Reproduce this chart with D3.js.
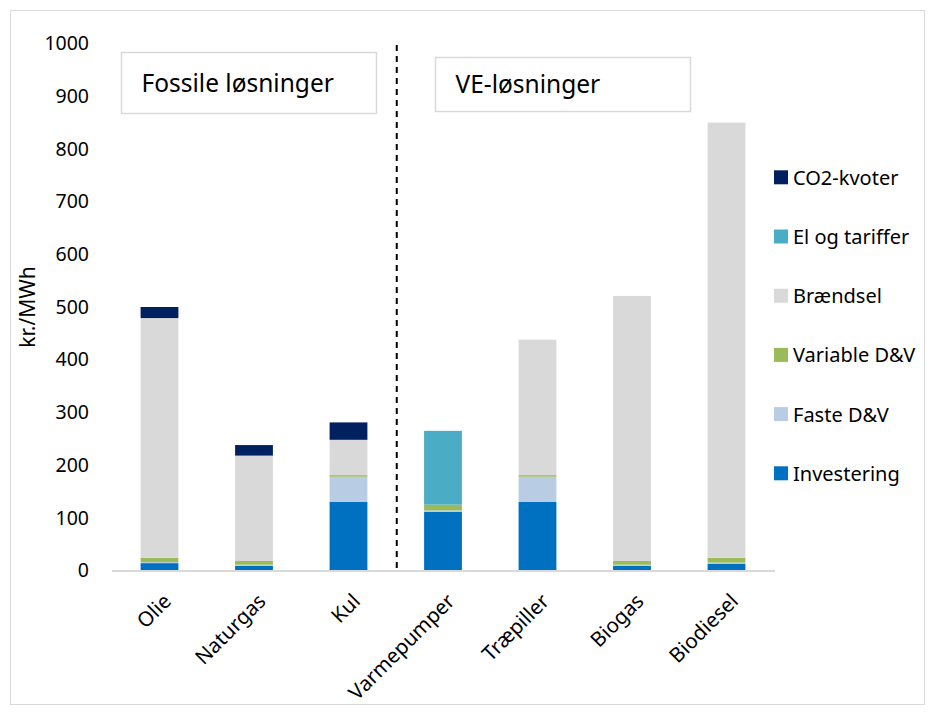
<!DOCTYPE html>
<html>
<head>
<meta charset="utf-8">
<script src="https://cdn.jsdelivr.net/npm/d3@7"></script>
<style>
  html, body { margin: 0; padding: 0; background: #fff; }
  svg { display: block; font-family: "Noto Sans", "Open Sans", sans-serif; }
</style>
</head>
<body>
<svg id="chart" width="935" height="715"></svg>
<script>
// Heating solutions, cost per MWh split into components
const categories = ["Olie", "Naturgas", "Kul", "Varmepumper", "Træpiller", "Biogas", "Biodiesel"];
const investering = [14, 9, 130, 111, 130, 9, 13];
const fasteDV     = [2, 2, 48, 3, 48, 2, 2];
const variableDV  = [8, 7, 3, 11, 3, 7, 9];
const braendsel   = [455, 200, 67, 0, 257, 503, 826];
const elTariffer  = [0, 0, 0, 140, 0, 0, 0];
const co2Kvoter   = [21, 20, 33, 0, 0, 0, 0];
const yTicks = [0, 100, 200, 300, 400, 500, 600, 700, 800, 900, 1000];

const seriesNames  = ["Investering", "Faste D&V", "Variable D&V", "Brændsel", "El og tariffer", "CO2-kvoter"];
const seriesValues = [investering, fasteDV, variableDV, braendsel, elTariffer, co2Kvoter];
const seriesColors = ["#0070c0", "#b8cce4", "#9bbb59", "#d9d9d9", "#4bacc6", "#002060"];

const svg = d3.select("#chart");

// outer frame
svg.append("rect")
  .attr("x", 10.5).attr("y", 10.5)
  .attr("width", 914).attr("height", 694)
  .attr("fill", "none").attr("stroke", "#d9d9d9").attr("stroke-width", 1);

const plot = { left: 112.25, right: 773.75, top: 43.5, bottom: 570.5 };

const x = d3.scaleBand()
  .domain(categories)
  .range([plot.left, plot.right])
  .paddingInner(0.6)
  .paddingOuter(0.3);

const y = d3.scaleLinear()
  .domain([0, 1000])
  .range([plot.bottom, plot.top]);

// build table for stacking
const table = categories.map((c, i) => {
  const row = { category: c };
  seriesNames.forEach((s, j) => { row[s] = seriesValues[j][i]; });
  return row;
});
const stacked = d3.stack().keys(seriesNames)(table);

const layers = svg.append("g").selectAll("g")
  .data(stacked)
  .join("g")
  .attr("fill", (d, i) => seriesColors[i]);

layers.selectAll("rect")
  .data(d => d)
  .join("rect")
  .attr("x", d => x(d.data.category))
  .attr("width", x.bandwidth())
  .attr("y", d => y(d[1]))
  .attr("height", d => Math.max(0, y(d[0]) - y(d[1])));

// y axis (labels only)
const yAxis = d3.axisLeft(y).tickValues(yTicks).tickFormat(d3.format("d")).tickSize(0).tickPadding(0);
const yg = svg.append("g")
  .attr("transform", "translate(89,0)")
  .call(yAxis);
yg.select(".domain").remove();
yg.selectAll("text")
  .attr("font-family", "Noto Sans, sans-serif")
  .attr("font-size", 19.5)
  .attr("fill", "#000");

// x axis baseline
svg.append("line")
  .attr("x1", 112).attr("x2", 775)
  .attr("y1", y(0) + 0.5).attr("y2", y(0) + 0.5)
  .attr("stroke", "#d9d9d9").attr("stroke-width", 2);

// category labels, rotated
const xAxis = d3.axisBottom(x).tickSize(0).tickPadding(0);
const xg = svg.append("g")
  .attr("transform", `translate(0,${y(0)})`)
  .call(xAxis);
xg.select(".domain").remove();
xg.selectAll("text")
  .attr("font-family", "Noto Sans, sans-serif")
  .attr("font-size", 20.5)
  .attr("fill", "#000")
  .attr("text-anchor", "end")
  .attr("dy", "0")
  .attr("y", 0)
  .attr("transform", "translate(13,32) rotate(-45)");

// y axis title
svg.append("text")
  .attr("transform", `translate(35,${(plot.top + plot.bottom) / 2}) rotate(-90)`)
  .attr("text-anchor", "middle")
  .attr("font-size", 21)
  .attr("fill", "#000")
  .text("kr./MWh");

// dashed separator between fossil and renewable groups
const sepX = (x("Kul") + x.bandwidth() + x("Varmepumper")) / 2 + 1;
svg.append("line")
  .attr("x1", sepX).attr("x2", sepX)
  .attr("y1", 45).attr("y2", y(0))
  .attr("stroke", "#000").attr("stroke-width", 2)
  .attr("stroke-dasharray", "6,5");

// group captions
const boxes = [
  { text: "Fossile løsninger", x: 121.5, y: 52.5, w: 255, h: 61 },
  { text: "VE-løsninger",      x: 435.5, y: 57.5, w: 255, h: 54 }
];
boxes.forEach(b => {
  svg.append("rect")
    .attr("x", b.x).attr("y", b.y).attr("width", b.w).attr("height", b.h)
    .attr("fill", "#fff").attr("stroke", "#d9d9d9").attr("stroke-width", 1.5);
  svg.append("text")
    .attr("x", b.x + 20).attr("y", b.y + b.h / 2 + 8.5)
    .attr("font-size", 24.5)
    .attr("fill", "#000")
    .text(b.text);
});

// legend (top entry is the top of the stack)
const legendOrder = seriesNames.map((n, i) => ({ name: n, color: seriesColors[i] })).reverse();
const legend = svg.append("g");
legendOrder.forEach((d, i) => {
  const cy = 177.3 + i * 59.2;
  legend.append("rect")
    .attr("x", 774).attr("y", cy - 7).attr("width", 14).attr("height", 14)
    .attr("fill", d.color);
  legend.append("text")
    .attr("x", 793).attr("y", cy + 7.5)
    .attr("font-size", 20)
    .attr("fill", "#000")
    .text(d.name);
});
</script>
</body>
</html>
